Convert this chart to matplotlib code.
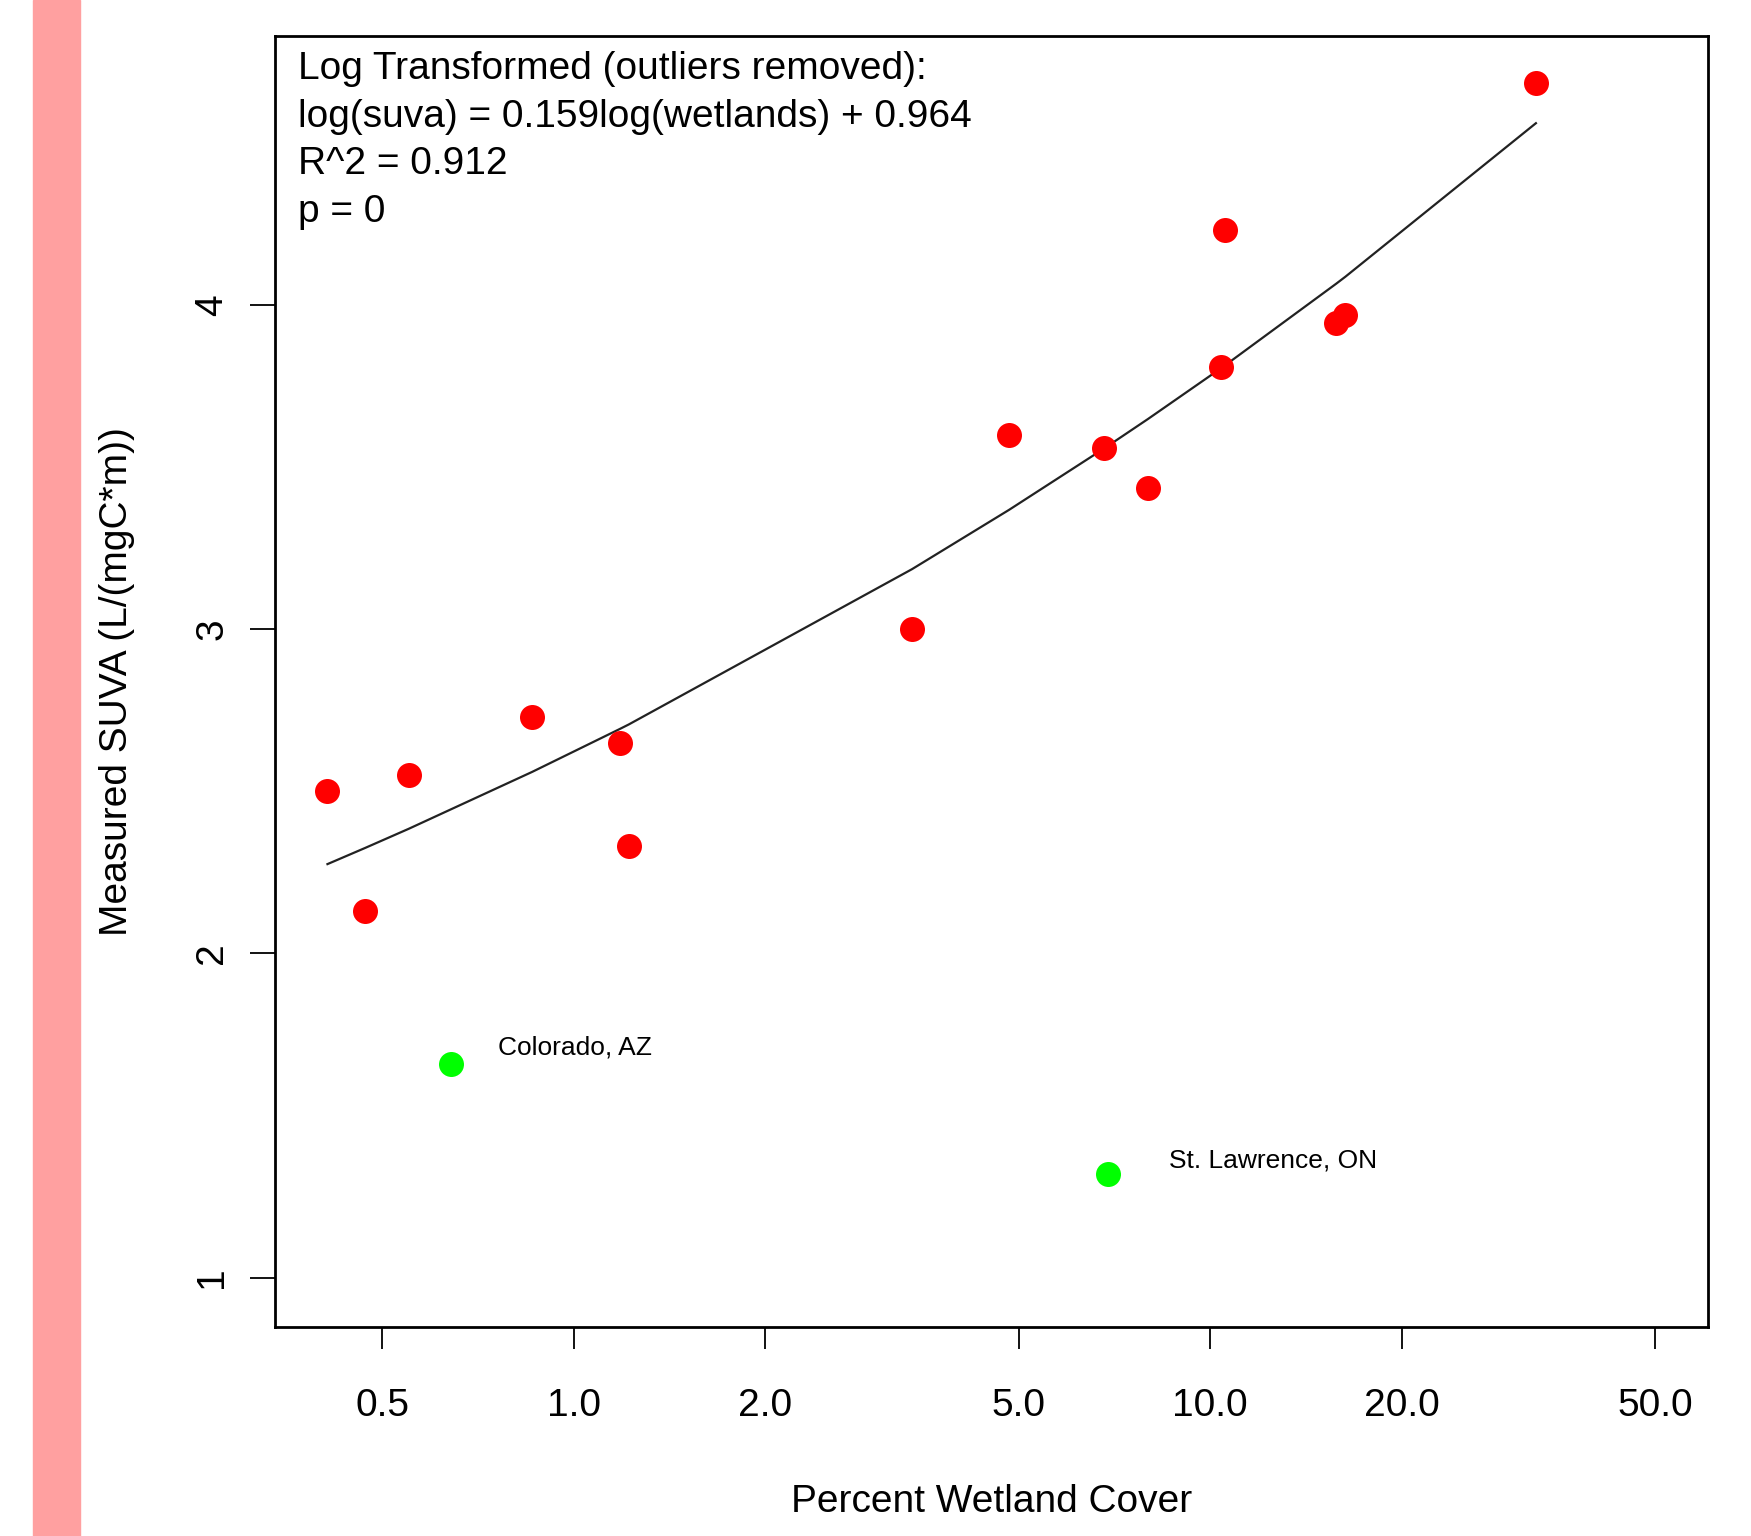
import numpy as np
import matplotlib
matplotlib.use("Agg")
import matplotlib.pyplot as plt

plt.rcParams["font.family"] = ["Liberation Sans", "DejaVu Sans"]

# percent wetland cover vs measured SUVA (fit data)
wetlands = [0.41, 0.47, 0.55, 0.86, 1.18, 1.22, 3.40, 4.83, 6.81, 7.98,
            10.41, 10.54, 15.78, 16.31, 32.5]
suva = [2.50, 2.13, 2.55, 2.73, 2.65, 2.33, 3.00, 3.60, 3.56, 3.435,
        3.81, 4.23, 3.945, 3.97, 4.685]

# outliers (removed from the fit)
outlier_names = ["Colorado, AZ", "St. Lawrence, ON"]
outlier_wetlands = [0.64, 6.90]
outlier_suva = [1.66, 1.32]

# fitted model: log(suva) = slope*log(wetlands) + intercept
slope = 0.159
intercept = 0.964
r2 = 0.912
pval = 0

x_ticks = [0.5, 1.0, 2.0, 5.0, 10.0, 20.0, 50.0]
y_ticks = [1, 2, 3, 4]

fig = plt.figure(figsize=(17.51, 15.36), dpi=100)
# pink strip at the left edge
fig.patches.append(plt.Rectangle((0.0188, 0), 0.0269, 1, transform=fig.transFigure,
                                 color="#FFA0A0", zorder=0))

ax = fig.add_axes([0.157, 0.1361, 0.8185, 0.8405])

xs = np.sort(np.array(wetlands))
fit = np.exp(slope * np.log(xs) + intercept)
ax.plot(xs, fit, color="#222222", lw=1.6, zorder=2)

ax.plot(wetlands, suva, "o", color="#FF0000", ms=18, mec="none", zorder=3)
ax.plot(outlier_wetlands, outlier_suva, "o", color="#00FF00", ms=18, mec="none", zorder=3)

label_offsets = [(34, 11.5), (44, 10)]
for name, xv, yv, off in zip(outlier_names, outlier_wetlands, outlier_suva, label_offsets):
    ax.annotate(name, (xv, yv), xytext=off, textcoords="offset points",
                ha="left", va="center", fontsize=19)

ax.set_xscale("log")
ax.set_xlim(0.339, 60.6)
ax.set_ylim(0.848, 4.83)
ax.set_xticks(x_ticks)
ax.set_xticklabels([f"{v:.1f}" for v in x_ticks])
ax.xaxis.set_minor_locator(matplotlib.ticker.NullLocator())
ax.set_yticks(y_ticks)
ax.set_yticklabels([str(v) for v in y_ticks], rotation=90, va="center")

ax.tick_params(axis="x", length=16, width=1.3, pad=28, labelsize=28)
ax.tick_params(axis="y", length=18, width=1.3, pad=14, labelsize=28)
for s in ax.spines.values():
    s.set_linewidth(2)

ax.set_xlabel("Percent Wetland Cover", fontsize=28)
ax.set_ylabel("Measured SUVA (L/(mgC*m))", fontsize=28)
ax.xaxis.set_label_coords(0.5, -0.122)
ax.yaxis.set_label_coords(-0.0977, 0.5)

lines = ["Log Transformed (outliers removed):",
         f"log(suva) = {slope}log(wetlands) + {intercept}",
         f"R^2 = {r2}",
         f"p = {pval}"]
for i, txt in enumerate(lines):
    fig.text(0.170, 1 - (79 + 47.6 * i) / 1536, txt, fontsize=28, va="baseline", ha="left")

fig.savefig("out.png", dpi=100)
